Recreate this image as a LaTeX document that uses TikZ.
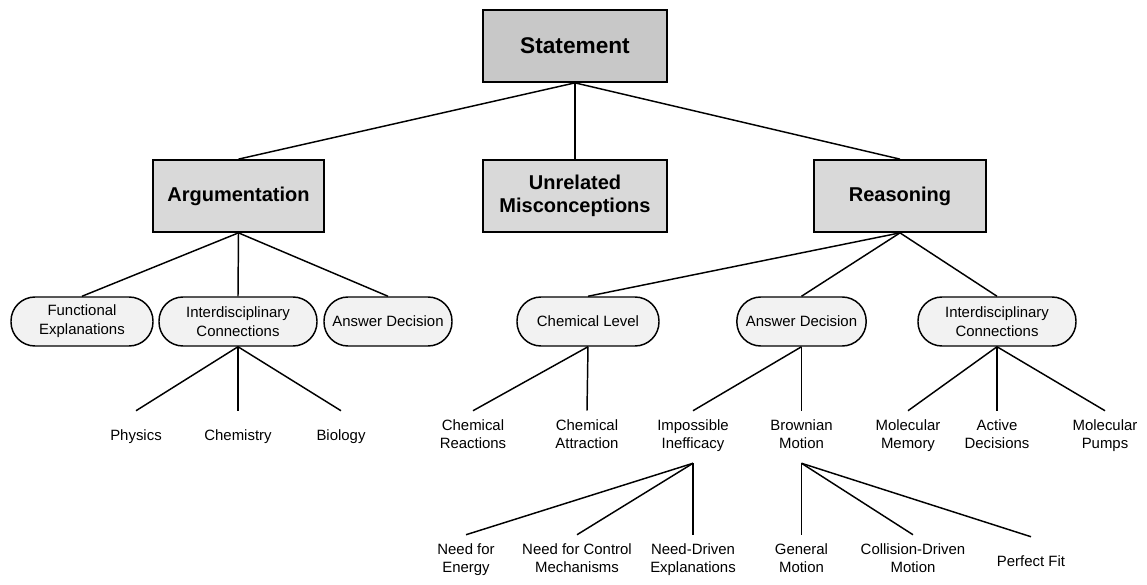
\documentclass[tikz,border=0pt]{standalone}
\usepackage{fontspec}
\setmainfont{Liberation Sans}
\usepackage{xcolor}
\definecolor{rootgray}{RGB}{200,200,200}
\definecolor{catgray}{RGB}{217,217,217}
\definecolor{pillgray}{RGB}{242,242,242}
\usepackage{tikz}
\usetikzlibrary{positioning}

\begin{document}
\begin{tikzpicture}[
  x=0.75pt, y=-0.75pt,
  cat/.style={rectangle, draw=black, line width=1.3pt, fill=catgray, minimum width=129pt,
    minimum height=54pt, align=center, font=\fontsize{15}{17}\selectfont\bfseries},
  pill/.style={rectangle, rounded corners=18pt, draw=black, line width=1.1pt, fill=pillgray,
    minimum height=36.75pt, inner xsep=2pt, align=center, font=\fontsize{11.2}{14.2}\selectfont},
  leaf/.style={align=center, inner sep=6pt, minimum height=39pt, font=\fontsize{11.2}{13.5}\selectfont,
    execute at begin node=\strut, execute at end node=\strut},
  edge/.style={line width=1.1pt}
]
\useasboundingbox (0,0) rectangle (1147,585);

%% Root
\node[cat, fill=rootgray, minimum width=138pt, font=\fontsize{17}{19}\selectfont\bfseries] (stmt) at (575,46) {Statement};

%% Categories
\node[cat, minimum width=128pt] (arg) at (238.5,196) {Argumentation};
\node[cat, minimum width=138pt] (unrel) at (575,196) {Unrelated\\Misconceptions};
\node[cat] (reas) at (900,196) {Reasoning};

\draw[edge] (stmt.south) -- (arg.north);
\draw[edge] (stmt.south) -- (unrel.north);
\draw[edge] (stmt.south) -- (reas.north);

%% Argumentation branch
\node[pill, minimum width=106.5pt] (func) at (82,321.5) {Functional\\Explanations};
\node[pill, minimum width=118.5pt] (interA) at (238,321.5) {Interdisciplinary\\Connections};
\node[pill, minimum width=96pt] (ansA) at (388,321.5) {Answer Decision};

\draw[edge] (arg.south) -- (func.north);
\draw[edge] (arg.south) -- (interA.north);
\draw[edge] (arg.south) -- (ansA.north);

\node[leaf] (phys) at (136,437) {Physics};
\node[leaf] (chemy) at (238,437) {Chemistry};
\node[leaf] (bio) at (341,437) {Biology};

\draw[edge] (interA.south) -- (phys.north);
\draw[edge] (interA.south) -- (chemy.north);
\draw[edge] (interA.south) -- (bio.north);

%% Reasoning branch
\node[pill, minimum width=106.5pt] (chem) at (588,321.5) {Chemical Level};
\node[pill, minimum width=97pt] (ansR) at (801.5,321.5) {Answer Decision};
\node[pill, minimum width=118.5pt] (interR) at (997,321.5) {Interdisciplinary\\Connections};

\draw[edge] (reas.south) -- (chem.north);
\draw[edge] (reas.south) -- (ansR.north);
\draw[edge] (reas.south) -- (interR.north);

\node[leaf] (creact) at (473,437) {Chemical\\Reactions};
\node[leaf] (cattr) at (587,437) {Chemical\\Attraction};
\node[leaf] (imposs) at (693,437) {Impossible\\Inefficacy};
\node[leaf] (brown) at (801.5,437) {Brownian\\Motion};
\node[leaf] (molmem) at (908,437) {Molecular\\Memory};
\node[leaf] (active) at (997,437) {Active\\Decisions};
\node[leaf] (molpump) at (1105,437) {Molecular\\Pumps};

\draw[edge] (chem.south) -- (creact.north);
\draw[edge] (chem.south) -- (cattr.north);
\draw[edge] (ansR.south) -- (imposs.north);
\draw[edge] (ansR.south) -- (brown.north);
\draw[edge] (interR.south) -- (molmem.north);
\draw[edge] (interR.south) -- (active.north);
\draw[edge] (interR.south) -- (molpump.north);

%% Bottom level
\node[leaf] (nenergy) at (466,561) {Need for\\Energy};
\node[leaf] (ncontrol) at (577,561) {Need for Control\\Mechanisms};
\node[leaf] (ndriven) at (693,561) {Need-Driven\\Explanations};
\node[leaf] (genmot) at (801.5,561) {General\\Motion};
\node[leaf] (collmot) at (913,561) {Collision-Driven\\Motion};
\node[leaf] (pfit) at (1031,563) {Perfect Fit};

\draw[edge] (imposs.south) -- (nenergy.north);
\draw[edge] (imposs.south) -- (ncontrol.north);
\draw[edge] (imposs.south) -- (ndriven.north);
\draw[edge] (brown.south) -- (genmot.north);
\draw[edge] (brown.south) -- (collmot.north);
\draw[edge] (brown.south) -- (pfit.north);

\end{tikzpicture}
\end{document}
